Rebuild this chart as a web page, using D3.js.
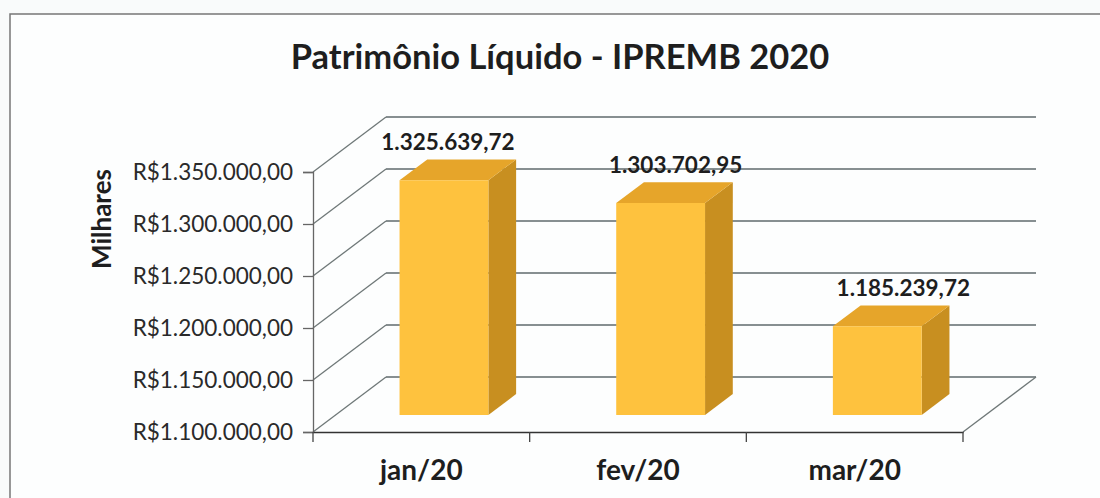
<!DOCTYPE html>
<html>
<head>
<meta charset="utf-8">
<script src="https://cdn.jsdelivr.net/npm/d3@7"></script>
<style>
  body { margin: 0; background: #f9fbfb; }
  svg { display: block; font-family: Lato, "Open Sans", sans-serif; }
</style>
</head>
<body>
<div id="chart"></div>
<script>
// data
const categories = ['jan/20', 'fev/20', 'mar/20'];
const values = [1325639.72, 1303702.95, 1185239.72];
const valueLabels = ['1.325.639,72', '1.303.702,95', '1.185.239,72'];
const yTicks = [1100000, 1150000, 1200000, 1250000, 1300000, 1350000];
const yTickLabels = ['R$1.100.000,00', 'R$1.150.000,00', 'R$1.200.000,00',
  'R$1.250.000,00', 'R$1.300.000,00', 'R$1.350.000,00'];

const width = 1100, height = 498;
const plotLeft = 313, plotRight = 963, plotBottom = 432, plotTop = 172;
const depth = {dx: 73, dy: -55};
const barZ = [0.31, 0.69];

const svg = d3.select('#chart').append('svg')
  .attr('width', width)
  .attr('height', height);

// outer frame (runs off the page on the right and bottom)
svg.append('rect')
  .attr('x', 10).attr('y', 14)
  .attr('width', 1200).attr('height', 600)
  .attr('fill', '#fdfefe')
  .attr('stroke', '#777').attr('stroke-width', 1.5);

svg.append('text')
  .attr('x', 560).attr('y', 69)
  .attr('text-anchor', 'middle')
  .attr('font-size', 34.5).attr('font-weight', 'bold')
  .attr('fill', '#1e1e1e')
  .text('Patrimônio Líquido - IPREMB 2020');

const x = d3.scaleBand()
  .domain(categories)
  .range([plotLeft, plotRight])
  .paddingInner(0.59)
  .paddingOuter(0.295);

const y = d3.scaleLinear()
  .domain([yTicks[0], yTicks[yTicks.length - 1]])
  .range([plotBottom, plotTop]);

function proj(px, py, z) {
  return [px + z * depth.dx, py + z * depth.dy];
}

const walls = svg.append('g');

// left wall lines
walls.selectAll('.lw').data(yTicks).enter().append('line')
  .attr('x1', plotLeft).attr('y1', d => y(d))
  .attr('x2', d => proj(plotLeft, y(d), 1)[0])
  .attr('y2', d => proj(plotLeft, y(d), 1)[1])
  .attr('stroke', '#6f7878').attr('stroke-width', 1.3);

// back wall gridlines
walls.selectAll('.bw').data(yTicks).enter().append('line')
  .attr('x1', d => proj(plotLeft, y(d), 1)[0])
  .attr('y1', d => proj(plotLeft, y(d), 1)[1])
  .attr('x2', d => proj(plotRight, y(d), 1)[0])
  .attr('y2', d => proj(plotRight, y(d), 1)[1])
  .attr('stroke', '#5f6a6c').attr('stroke-width', 1.4);

// floor right edge
walls.append('line')
  .attr('x1', plotRight).attr('y1', plotBottom)
  .attr('x2', proj(plotRight, plotBottom, 1)[0])
  .attr('y2', proj(plotRight, plotBottom, 1)[1])
  .attr('stroke', '#6f7878').attr('stroke-width', 1.3);

// y axis
const yAxis = svg.append('g')
  .attr('transform', `translate(${plotLeft},0)`)
  .call(d3.axisLeft(y).tickValues(yTicks)
    .tickFormat((d, i) => yTickLabels[i]).tickSizeOuter(0).tickSize(10).tickPadding(10));
yAxis.select('.domain').attr('stroke', '#666').attr('stroke-width', 1.3);
yAxis.selectAll('.tick line').attr('stroke', '#666').attr('stroke-width', 1.3);
yAxis.selectAll('.tick text')
  .attr('font-size', 22.5).attr('fill', '#2a2a2a')
  .attr('font-family', 'Lato, sans-serif');

// x axis
const xAxis = svg.append('g')
  .attr('transform', `translate(0,${plotBottom})`)
  .call(d3.axisBottom(x).tickSize(0).tickPadding(28));
xAxis.select('.domain').attr('stroke', '#333').attr('stroke-width', 1.5);
xAxis.selectAll('.tick text')
  .attr('font-size', 28).attr('font-weight', 'bold').attr('fill', '#1e1e1e')
  .attr('font-family', 'Lato, sans-serif');
// category divider ticks
const step = x.step();
xAxis.selectAll('.div').data(d3.range(categories.length + 1)).enter().append('line')
  .attr('x1', i => plotLeft + i * step).attr('x2', i => plotLeft + i * step)
  .attr('y1', 0).attr('y2', 10)
  .attr('stroke', '#444').attr('stroke-width', 1.3);

svg.append('text')
  .attr('transform', `translate(111,219) rotate(-90)`)
  .attr('text-anchor', 'middle')
  .attr('font-size', 26).attr('font-weight', 'bold').attr('fill', '#1e1e1e')
  .text('Milhares');

// bars
const bars = svg.append('g').selectAll('g').data(values).enter().append('g');

function face(pts) {
  return 'M' + pts.map(p => p.join(',')).join('L') + 'Z';
}

bars.each(function (v, i) {
  const g = d3.select(this);
  const x0 = x(categories[i]), x1 = x0 + x.bandwidth();
  const yt = y(v), yb = y(yTicks[0]);
  const [z0, z1] = barZ;
  // right side
  g.append('path')
    .attr('d', face([proj(x1, yt, z0), proj(x1, yt, z1), proj(x1, yb, z1), proj(x1, yb, z0)]))
    .attr('fill', '#c88f20');
  // top
  g.append('path')
    .attr('d', face([proj(x0, yt, z0), proj(x0, yt, z1), proj(x1, yt, z1), proj(x1, yt, z0)]))
    .attr('fill', '#e6a52a');
  // front
  g.append('path')
    .attr('d', face([proj(x0, yt, z0), proj(x1, yt, z0), proj(x1, yb, z0), proj(x0, yb, z0)]))
    .attr('fill', '#fec23e');
});

// value labels
svg.append('g').selectAll('text').data(values).enter().append('text')
  .attr('x', (v, i) => proj(x(categories[i]) + x.bandwidth() / 2, 0, barZ[0])[0] + 4 + i * 11)
  .attr('y', v => proj(0, y(v), barZ[0])[1] - 30)
  .attr('text-anchor', 'middle')
  .attr('font-size', 22.5).attr('font-weight', 'bold').attr('fill', '#1e1e1e')
  .text((v, i) => valueLabels[i]);
</script>
</body>
</html>
